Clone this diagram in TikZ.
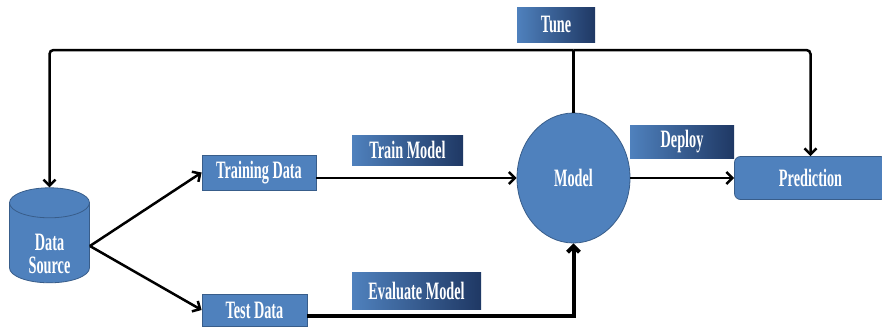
\documentclass[tikz,border=0pt]{standalone}
\usepackage{fontspec}
\setmainfont{Liberation Serif}[FakeStretch=0.57]
\usetikzlibrary{shapes.geometric, arrows.meta, positioning}

\definecolor{boxblue}{HTML}{4F81BD}
\definecolor{boxline}{HTML}{385D8A}
\definecolor{tagdark}{HTML}{1F3864}

\newcommand{\boxfont}{\bfseries\fontsize{25}{23}\selectfont}

\tikzset{
  stepbox/.style={rectangle, draw=boxline, fill=boxblue, line width=0.8pt, text=white, font=\boxfont, inner sep=0pt},
  tagbox/.style={rectangle, left color=boxblue, right color=tagdark, text=white, font=\boxfont, inner sep=0pt},
  flow/.style={line width=2.5pt, -{Straight Barb[length=6pt, width=12pt]}}
}

\begin{document}
\begin{tikzpicture}[x=1pt, y=-1pt, on grid]
\path[use as bounding box, fill=white] (0,0) rectangle (882,327);

\node[cylinder, shape border rotate=90, aspect=4.5, draw=boxline, fill=boxblue, line width=0.8pt,
      minimum width=80pt, minimum height=95pt] (src) at (49.5,246) {};
\node[text=white, font=\boxfont, align=center, inner sep=0pt] (srctext) at (49.5,254) {Data\\Source};

\node[stepbox, minimum width=114pt, minimum height=35pt] (train) at (259,172.5) {Training Data};
\node[stepbox, minimum width=105pt, minimum height=32pt] (test) at (254.5,310) {Test Data};
\node[ellipse, draw=boxline, fill=boxblue, line width=0.8pt, minimum width=113pt, minimum height=130pt,
      inner sep=0pt, text=white, font=\boxfont] (model) at (573.5,178) {Model};
\node[stepbox, rounded corners=6pt, minimum width=152pt, minimum height=43pt] (pred) [right=237pt of model] {Prediction};

\node[tagbox, minimum width=111pt, minimum height=30pt] (trainlbl) at (407.5,150) {Train Model};
\node[tagbox, minimum width=129pt, minimum height=37pt] (evallbl) at (416.5,290.5) {Evaluate Model};
\node[tagbox, minimum width=78pt, minimum height=35pt] (tune) at (556,24.5) {Tune};
\node[tagbox, minimum width=104pt, minimum height=33pt] (deploy) at (682,141.5) {Deploy};

\coordinate (tunejoin) at (model.north |- 0,50);

\draw[flow] (src.0) -- (train.west);
\draw[flow] (src.0) -- (test.west);
\draw[flow] (train.east |- model) -- (model.west);
\draw[flow] (model.east) -- (pred.west);
\draw[flow, line width=4pt] ([yshift=-6pt]test.east) -| (model.south);
\draw[line width=2.5pt] (model.north) -- (tunejoin);
\draw[flow, rounded corners=4pt] (tunejoin) -| (src.90);
\draw[flow, rounded corners=4pt] (tunejoin) -| (pred.north);
\end{tikzpicture}
\end{document}
